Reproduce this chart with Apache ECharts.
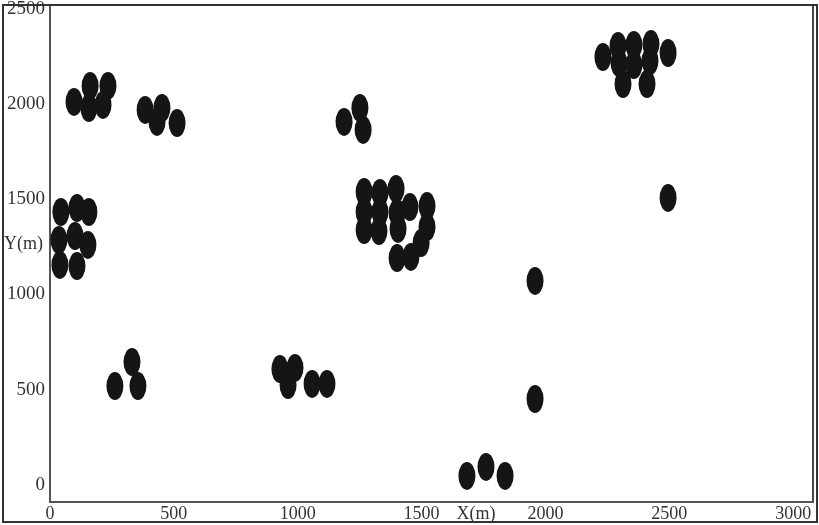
<!DOCTYPE html>
<html><head><meta charset="utf-8">
<script src="https://cdn.jsdelivr.net/npm/echarts@6/dist/echarts.min.js"></script>
<style>html,body{margin:0;padding:0;background:#fff}#c{width:819px;height:525px}</style>
</head><body><div id="c"></div>
<script>
// Tick labels
const xTicks = [0, 500, 1000, 1500, 2000, 2500, 3000];
const yTicks = [0, 500, 1000, 1500, 2000, 2500];

// Point positions (m)
const pointX = [
  97, 162, 234, 157, 214,
  384, 452, 432, 513,
  1187, 1251, 1264,
  44, 109, 157, 36, 101, 153, 40, 109,
  1268, 1332, 1397, 1268, 1332, 1401, 1453, 1522, 1268, 1328, 1405, 1522, 1498, 1457, 1401,
  2232, 2293, 2357, 2426, 2495, 2297, 2357, 2422, 2313, 2410,
  2495, 1958, 1958,
  1683, 1760, 1837,
  262, 331, 355,
  928, 989, 961, 1058, 1118
];
const pointY = [
  2011, 2095, 2095, 1979, 1995,
  1969, 1979, 1906, 1900,
  1906, 1979, 1864,
  1433, 1454, 1433, 1286, 1307, 1260, 1155, 1149,
  1538, 1533, 1554, 1433, 1433, 1428, 1459, 1464, 1338, 1333, 1344, 1354, 1270, 1197, 1191,
  2247, 2305, 2310, 2315, 2268, 2215, 2205, 2226, 2105, 2105,
  1507, 1071, 451,
  47, 94, 47,
  519, 645, 519,
  608, 614, 524, 530, 530
];

const chart = echarts.init(document.getElementById('c'), null, {renderer: 'canvas'});
const labelFont = 'Liberation Serif';
const plain = v => String(v);
chart.setOption({
  animation: false,
  backgroundColor: '#fff',
  grid: {
    left: 50, right: 6, top: 5, bottom: 23,
    show: true, borderColor: '#444', borderWidth: 2,
    outerBoundsMode: 'none'
  },
  xAxis: {
    type: 'value', min: 0, max: 3080,
    splitLine: {show: false},
    axisTick: {show: false},
    axisLine: {show: true, onZero: false, lineStyle: {color: '#555', width: 2}},
    axisLabel: {
      customValues: xTicks, margin: 3, formatter: plain,
      color: '#333', fontFamily: labelFont, fontSize: 18
    },
    name: 'X(m)', nameLocation: 'middle', nameGap: 3, nameMoveOverlap: false,
    nameTextStyle: {color: '#333', fontFamily: labelFont, fontSize: 18, padding: [0, 0, 0, 89]}
  },
  yAxis: {
    type: 'value', min: -90, max: 2520,
    splitLine: {show: false},
    axisTick: {show: false},
    axisLine: {show: true, onZero: false, lineStyle: {color: '#555', width: 2}},
    axisLabel: {
      customValues: yTicks, margin: 5, formatter: plain,
      color: '#333', fontFamily: labelFont, fontSize: 19
    },
    name: 'Y(m)', nameLocation: 'middle', nameGap: 7, nameRotate: 0, nameMoveOverlap: false,
    nameTextStyle: {color: '#333', fontFamily: labelFont, fontSize: 18, verticalAlign: 'bottom'}
  },
  series: [{
    type: 'scatter',
    symbol: 'circle',
    symbolSize: [17, 28],
    itemStyle: {color: '#151515', opacity: 1},
    clip: false,
    data: pointX.map((x, i) => [x, pointY[i]])
  }],
  graphic: [{
    type: 'rect', silent: true, z: 100,
    shape: {x: 3, y: 5, width: 814, height: 517},
    style: {fill: 'none', stroke: '#333', lineWidth: 2}
  }]
});
</script>
</body></html>
